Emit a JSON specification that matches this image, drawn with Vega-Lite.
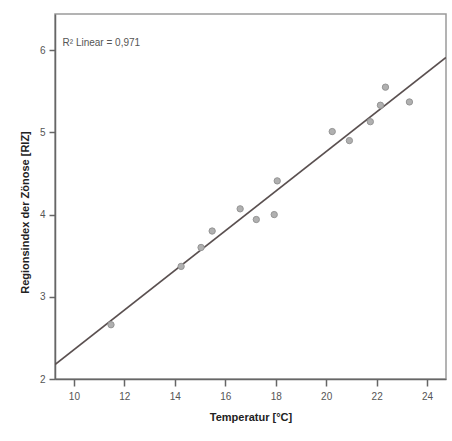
{
  "$schema": "https://vega.github.io/schema/vega-lite/v6.json",
  "autosize": {"type": "none"},
  "width": 391,
  "height": 365,
  "padding": {"left": 55, "top": 14, "right": 6, "bottom": 62},
  "background": "#ffffff",
  "config": {
    "font": "Liberation Sans",
    "view": {"stroke": "#9a9a9a", "strokeWidth": 1.5},
    "axis": {
      "grid": false,
      "domainColor": "#666666",
      "domainWidth": 1.5,
      "tickColor": "#666666",
      "tickWidth": 1.5,
      "labelColor": "#555555",
      "labelFontSize": 10,
      "titleColor": "#222222",
      "titleFontSize": 11,
      "titleFontWeight": "bold"
    }
  },
  "datasets": {
    "points": [
      {"temp": 11.47, "riz": 2.66},
      {"temp": 14.25, "riz": 3.37},
      {"temp": 15.04, "riz": 3.60},
      {"temp": 15.48, "riz": 3.80},
      {"temp": 16.59, "riz": 4.07},
      {"temp": 17.23, "riz": 3.94},
      {"temp": 18.06, "riz": 4.41},
      {"temp": 17.94, "riz": 4.00},
      {"temp": 20.24, "riz": 5.01},
      {"temp": 20.92, "riz": 4.90},
      {"temp": 21.75, "riz": 5.13},
      {"temp": 22.15, "riz": 5.33},
      {"temp": 22.35, "riz": 5.55},
      {"temp": 23.30, "riz": 5.37}
    ],
    "label": [
      {"temp": 9.55, "riz": 6.09, "text": "R² Linear = 0,971"}
    ]
  },
  "layer": [
    {
      "data": {"name": "points"},
      "transform": [
        {"regression": "riz", "on": "temp", "extent": [9.25, 24.75]}
      ],
      "mark": {"type": "line", "color": "#5a5050", "strokeWidth": 1.6, "clip": true},
      "encoding": {
        "x": {"field": "temp", "type": "quantitative"},
        "y": {"field": "riz", "type": "quantitative"}
      }
    },
    {
      "data": {"name": "points"},
      "mark": {"type": "point", "shape": "circle", "filled": true, "size": 40, "color": "#b0b0b0", "opacity": 1, "stroke": "#959595", "strokeWidth": 1},
      "encoding": {
        "x": {
          "field": "temp", "type": "quantitative",
          "scale": {"domain": [9.25, 24.75], "nice": false, "zero": false},
          "axis": {"values": [10, 12, 14, 16, 18, 20, 22, 24], "format": "d", "tickSize": 7, "labelPadding": 5, "title": "Temperatur [°C]", "titlePadding": 10}
        },
        "y": {
          "field": "riz", "type": "quantitative",
          "scale": {"domain": [2, 6.44], "nice": false, "zero": false},
          "axis": {"values": [2, 3, 4, 5, 6], "format": "d", "tickSize": 6, "labelPadding": 4, "title": "Regionsindex der Zönose [RIZ]", "titlePadding": 9, "titleY": 198}
        }
      }
    },
    {
      "data": {"name": "label"},
      "mark": {"type": "text", "align": "left", "baseline": "middle", "fontSize": 10, "color": "#555555"},
      "encoding": {
        "x": {"field": "temp", "type": "quantitative"},
        "y": {"field": "riz", "type": "quantitative"},
        "text": {"field": "text"}
      }
    }
  ]
}
